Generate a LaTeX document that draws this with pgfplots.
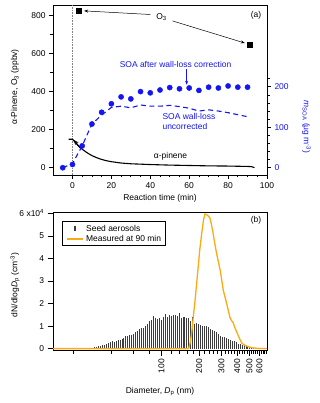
\documentclass[border=0pt]{standalone}
\usepackage{fontspec}
\setmainfont{Liberation Sans}
\usepackage{pgfplots}
\usepackage{pgfplotstable}
\pgfplotsset{compat=1.18}
\usetikzlibrary{arrows.meta}

\definecolor{soablue}{RGB}{20,20,245}
\definecolor{measorange}{RGB}{250,170,20}
\definecolor{seedgray}{RGB}{60,60,60}

\newcommand{\fs}{\fontsize{8.5}{9.8}\selectfont}

\pgfplotsset{
  panel/.style={
    scale only axis,
    width=214bp,
    tick align=outside,
    major tick length=4bp,
    minor tick length=2.5bp,
    axis line style={line width=0.8bp},
    tick style={line width=0.7bp, black},
    tick label style={font=\fs},
    /pgf/number format/assume math mode=true,
    xtick pos=bottom,
    ytick pos=left,
  },
}

% seed aerosol size distribution (d in nm, dN/dlogDp in 1e4 cm^-3)
\pgfplotstableread{
d n
19.81 0.00
20.54 0.01
21.29 0.00
22.07 0.02
22.88 0.01
23.71 0.02
24.58 0.01
25.48 0.03
26.42 0.02
27.38 0.05
28.39 0.03
29.43 0.06
30.51 0.07
31.62 0.10
32.78 0.12
33.98 0.15
35.23 0.17
36.52 0.20
37.86 0.24
39.24 0.28
40.68 0.33
42.17 0.30
43.71 0.36
45.32 0.38
46.98 0.40
48.70 0.43
50.48 0.47
52.33 0.55
54.25 0.56
56.23 0.60
58.29 0.62
60.43 0.66
62.64 0.72
64.94 0.78
67.32 0.88
69.78 0.90
72.34 0.92
74.99 1.02
77.74 1.08
80.58 1.22
83.54 1.28
86.60 1.45
89.77 1.38
93.06 1.32
96.47 1.35
100.0 1.25
103.7 1.42
107.5 1.52
111.4 1.40
115.5 1.48
119.7 1.46
124.1 1.48
128.6 1.50
133.4 1.47
138.2 1.56
143.3 1.36
148.6 1.40
154.0 1.42
159.6 1.34
165.5 1.38
171.5 1.22
177.8 1.42
184.3 1.10
191.1 1.15
198.1 1.08
205.4 1.06
212.9 1.02
220.7 1.01
228.8 1.00
237.1 0.94
245.8 0.88
254.8 0.84
264.2 0.78
273.8 0.72
283.9 0.64
294.3 0.58
305.1 0.52
316.2 0.50
327.8 0.46
339.8 0.43
352.3 0.38
365.2 0.35
378.6 0.32
392.4 0.28
406.8 0.22
421.7 0.20
437.1 0.16
453.2 0.14
469.8 0.12
487.0 0.10
504.8 0.08
523.3 0.06
542.5 0.05
562.3 0.04
582.9 0.03
604.3 0.02
626.4 0.02
649.4 0.01
}\seedtable

% measured at 90 min
\pgfplotstableread{
d n
13.8 0
160 0
165 0.02
170 0.3
175 0.8
180 1.5
185 2.1
190 2.8
196 3.6
202 4.4
209 5.1
216 5.7
222 5.97
228 5.95
236 5.88
243 5.8
250 5.5
256 5.2
265 4.7
275 4.2
285 3.8
295 3.4
310 2.6
320 2.3
330 2.0
340 1.7
350 1.4
360 1.25
372 1.15
385 0.9
396 0.75
410 0.55
420 0.42
435 0.25
450 0.18
475 0.12
500 0.07
540 0.03
600 0.01
690 0.01
}\meastable

\begin{document}
\begin{tikzpicture}
\path[use as bounding box] (0,0) rectangle (320bp,403bp);

% ---------- panel (a), left axis ----------
\begin{axis}[panel,
  at={(53bp,228bp)}, anchor=south west, height=170bp,
  xmin=-10, xmax=100, ymin=-38, ymax=856,
  xtick={0,20,...,100}, minor x tick num=3,
  ytick={0,200,...,800}, minor y tick num=1,
]
\addplot[gray, densely dotted, line width=0.6bp] coordinates {(0,-38) (0,856)};
\addplot[only marks, mark=square*, mark size=2.5bp, black] coordinates {(3,825) (91,645)};
\addplot[black, line width=1.1bp] coordinates {
  (-2,150) (0,150) (0.3,147) (1,140) (2,127) (3,115) (4,105) (5,98) (6,90)
  (8,76) (10,64) (12,55) (14,47) (16,41) (18,36) (20,32) (25,25) (30,21)
  (35,19) (40,17) (50,14) (60,12) (70,10) (80,9) (90,7) (92,6) (93,3) (93.5,0)
};
\draw[-{Stealth[length=5bp,width=4bp]}, line width=1bp] (axis cs:4.5,100) -- (axis cs:0.6,146);
\node[font=\fs] at (axis cs:45.8,793) {O\textsubscript{3}};
\draw[-{Stealth[length=4bp,width=3bp]}, line width=0.5bp] (axis cs:40.1,806) -- (axis cs:6,825);
\draw[-{Stealth[length=4bp,width=3bp]}, line width=0.5bp] (axis cs:51.5,772) -- (axis cs:88.6,656);
\node[font=\fs] at (rel axis cs:0.949,0.941) {(a)};
\node[font=\fs, anchor=west] at (axis cs:40.1,62) {α-pinene};
\end{axis}

% ---------- panel (a), right axis ----------
\begin{axis}[panel,
  at={(53bp,228bp)}, anchor=south west, height=170bp,
  xmin=-10, xmax=100, ymin=-18, ymax=402,
  axis x line=none, axis y line*=right, ytick pos=right,
  ytick={0,100,200},
  minor ytick={20,40,60,80,120,140,160,180,220},
  yticklabel style={text=soablue},
]
\addplot[soablue, dashed, dash pattern=on 5bp off 3.5bp, line width=1.1bp] coordinates {
  (-5,0) (0,10) (5,54) (10,108) (15,130) (20,149) (25,152) (30,148) (35,155)
  (40,152) (45,152) (50,154) (55,151) (60,147) (65,140) (70,143) (75,140)
  (80,136) (85,131) (90,126)
};
\addplot[only marks, mark=*, mark size=2.6bp, soablue] coordinates {
  (-5,0) (0,8) (5,54) (10,108) (15,137) (20,158) (25,175) (30,170) (35,188)
  (40,185) (45,192) (50,198) (55,195) (60,197) (65,191) (70,199) (75,197)
  (80,202) (85,199) (90,199)
};
\node[font=\fs, text=soablue] at (axis cs:53,256) {SOA after wall-loss correction};
\draw[-{Stealth[length=4bp,width=3bp]}, line width=0.5bp, soablue] (axis cs:58.7,243) -- (axis cs:58.7,205);
\node[font=\fs, text=soablue, anchor=west] at (axis cs:44.5,126) {SOA wall-loss};
\node[font=\fs, text=soablue, anchor=west] at (axis cs:44.5,103) {uncorrected};
\end{axis}

% ---------- panel (b) ----------
\begin{axis}[panel,
  at={(53bp,53bp)}, anchor=south west, height=137.3bp,
  xmode=log, xmin=13.8, xmax=690, ymin=-0.06, ymax=6.03,
  xtick={100,200,300,400,500,600},
  xticklabels={100,200,300,400,500,600},
  minor xtick={20,40,60,80,120,140,160,180,220,240,260,280,320,340,360,380,
    420,440,460,480,520,540,560,580,620,640,660,680},
  major tick length=5.5bp, minor tick length=3.5bp,
  xticklabel style={rotate=90, anchor=east},
  ytick={0,1,2,3,4,5,6},
  yticklabels={0,1,2,3,4,5,6 x10\textsuperscript{4}},
]
\addplot[ycomb, seedgray, line width=0.95bp] table[x=d, y=n] {\seedtable};
\addplot[measorange, line width=1.3bp] table[x=d, y=n] {\meastable};
\node[font=\fs] at (rel axis cs:0.949,0.947) {(b)};
% legend
\draw[black, line width=0.9bp, fill=white] (rel axis cs:0.045,0.934) rectangle (rel axis cs:0.524,0.76);
\draw[seedgray, line width=1.6bp] (rel axis cs:0.103,0.868) -- (rel axis cs:0.103,0.900);
\draw[measorange, line width=1.3bp] (rel axis cs:0.064,0.809) -- (rel axis cs:0.142,0.809);
\node[font=\fs, anchor=west, inner sep=0pt] at (rel axis cs:0.154,0.886) {Seed aerosols};
\node[font=\fs, anchor=west, inner sep=0pt] at (rel axis cs:0.154,0.809) {Measured at 90 min};
\end{axis}

% ---------- outer labels ----------
\node[rotate=90, font=\fs] at (15bp,316bp) {α-Pinene, O\textsubscript{3} (ppbv)};
\node[rotate=-90, font=\fs, text=soablue] at (306.5bp,276bp) {\textit{m}\textsubscript{SOA} (μg m\textsuperscript{-3})};
\node[font=\fs] at (160bp,205bp) {Reaction time (min)};
\node[rotate=90, font=\fs] at (15bp,118bp) {dN/dlog\textit{D}\textsubscript{p} (cm\textsuperscript{-3})};
\node[font=\fs] at (160bp,11.3bp) {Diameter, \textit{D}\textsubscript{p} (nm)};
\end{tikzpicture}
\end{document}
